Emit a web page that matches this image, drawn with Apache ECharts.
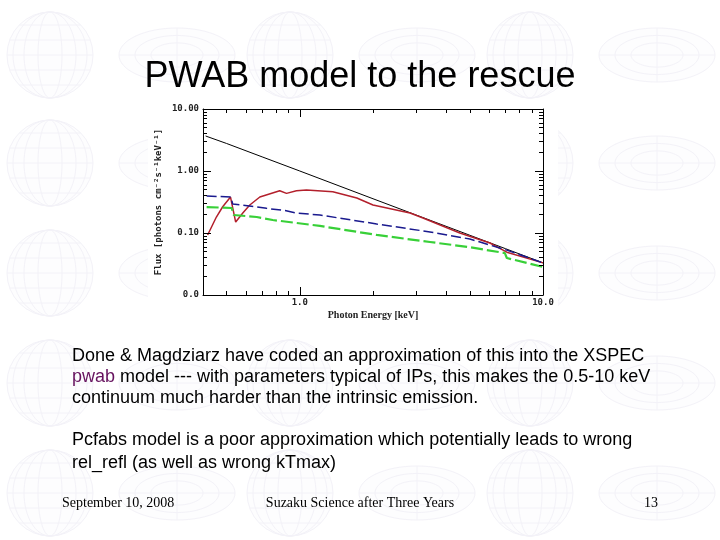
<!DOCTYPE html>
<html>
<head>
<meta charset="utf-8">
<script src="https://cdn.jsdelivr.net/npm/echarts@6/dist/echarts.min.js"></script>
<style>
  html, body { margin: 0; padding: 0; background: #fff; }
  #main { width: 720px; height: 540px; }
</style>
</head>
<body>
<div id="main"></div>
<script>
// values (keV, photons cm^-2 s^-1 keV^-1)
var energyBlack = [0.41, 0.5, 0.7, 1.0, 2.0, 3.0, 5.0, 7.0, 10.0];
var fluxBlack = [3.67, 2.78, 1.69, 1.0, 0.357, 0.196, 0.092, 0.056, 0.033];

var energyRed = [0.418, 0.454, 0.482, 0.519, 0.545, 0.583, 0.623, 0.685, 0.827, 0.882, 0.969, 1.065, 1.367, 1.716, 2.0, 2.84, 3.21, 4.55, 6.05, 7.1, 10.0];
var fluxRed = [0.093, 0.181, 0.265, 0.38, 0.150, 0.21, 0.283, 0.381, 0.481, 0.436, 0.481, 0.494, 0.464, 0.367, 0.283, 0.21, 0.175, 0.10, 0.069, 0.049, 0.033];

var energyBlue = [0.414, 0.52, 0.53, 0.62, 0.73, 0.87, 0.97, 1.21, 2.07, 3.43, 5.0, 7.1, 10.0];
var fluxBlue = [0.395, 0.38, 0.294, 0.272, 0.25, 0.23, 0.21, 0.195, 0.14, 0.104, 0.080, 0.053, 0.033];

var energyGreen = [0.414, 0.525, 0.535, 0.665, 0.774, 0.97, 1.21, 2.07, 3.43, 5.0, 6.97, 7.1, 10.0];
var fluxGreen = [0.262, 0.253, 0.195, 0.181, 0.162, 0.145, 0.130, 0.093, 0.0716, 0.059, 0.0475, 0.0395, 0.0283];

var xMajorTicks = [1, 10];
var xTickLabels = ['1.0', '10.0'];
var xMinorTicks = [0.5, 0.6, 0.7, 0.8, 0.9, 2, 3, 4, 5, 6, 7, 8, 9];
var yMajorTicks = [0.01, 0.1, 1, 10];
var yTickLabels = ['0.0', '0.10', '1.00', '10.00'];
var yMinorTicks = [0.02, 0.03, 0.04, 0.05, 0.06, 0.07, 0.08, 0.09,
  0.2, 0.3, 0.4, 0.5, 0.6, 0.7, 0.8, 0.9,
  2, 3, 4, 5, 6, 7, 8, 9];

var plotFont = 'DejaVu Sans Mono';

function pick(ticks, labels, v) {
  for (var i = 0; i < ticks.length; i++) {
    if (Math.abs(Math.log(v / ticks[i])) < 0.01) return labels[i];
  }
  return '';
}

function pairs(xs, ys) {
  var out = [];
  for (var i = 0; i < xs.length; i++) out.push([xs[i], ys[i]]);
  return out;
}

function xAxisOf(grid, pos, ticks, len, withLabels) {
  return {
    type: 'log', logBase: 10, gridIndex: grid, position: pos, min: 0.4, max: 10, z: 5,
    axisLine: { show: len > 5, lineStyle: { color: '#000', width: 1 } },
    axisTick: { show: true, inside: true, length: len, customValues: ticks, lineStyle: { color: '#000', width: 1 } },
    axisLabel: withLabels ? {
      show: true, margin: 3, customValues: xMajorTicks, color: '#222',
      fontFamily: plotFont, fontSize: 9, fontWeight: 'bold',
      formatter: function (v) { return pick(xMajorTicks, xTickLabels, v); }
    } : { show: false },
    splitLine: { show: false }, minorTick: { show: false }
  };
}

function yAxisOf(grid, pos, ticks, len, withLabels) {
  return {
    type: 'log', logBase: 10, gridIndex: grid, position: pos, min: 0.01, max: 10, z: 5,
    axisLine: { show: len > 5, lineStyle: { color: '#000', width: 1 } },
    axisTick: { show: true, inside: true, length: len, customValues: ticks, lineStyle: { color: '#000', width: 1 } },
    axisLabel: withLabels ? {
      show: true, margin: 4, customValues: yMajorTicks, color: '#222',
      fontFamily: plotFont, fontSize: 9, fontWeight: 'bold',
      formatter: function (v) { return pick(yMajorTicks, yTickLabels, v); }
    } : { show: false },
    splitLine: { show: false }, minorTick: { show: false }
  };
}

// faint globe watermark of the slide template
var globeColor = '#f3f2f8';
var decor = [];
var rowsY = [55, 163, 273, 383, 493];
var sphereX = [50, 290, 530];
rowsY.forEach(function (cy) {
  sphereX.forEach(function (cx) {
    decor.push({ type: 'circle', z: -2, shape: { cx: cx, cy: cy, r: 43 }, style: { fill: '#fdfdfe', stroke: globeColor, lineWidth: 1 } });
    [-30, -15, 0, 15, 30].forEach(function (d) {
      var h = Math.sqrt(43 * 43 - d * d);
      decor.push({ type: 'line', z: -2, shape: { x1: cx - h, y1: cy + d, x2: cx + h, y2: cy + d }, style: { stroke: globeColor, lineWidth: 1 } });
    });
    [12, 26, 37].forEach(function (rx) {
      decor.push({ type: 'ellipse', z: -2, shape: { cx: cx, cy: cy, rx: rx, ry: 43 }, style: { fill: null, stroke: globeColor, lineWidth: 1 } });
    });
    var dx = cx + 127;
    [58, 42, 26].forEach(function (rx) {
      decor.push({ type: 'ellipse', z: -2, shape: { cx: dx, cy: cy, rx: rx, ry: rx * 27 / 58 }, style: { fill: rx === 58 ? '#fdfdfe' : null, stroke: globeColor, lineWidth: 1 } });
    });
    decor.push({ type: 'line', z: -2, shape: { x1: dx - 58, y1: cy, x2: dx + 58, y2: cy }, style: { stroke: globeColor, lineWidth: 1 } });
    decor.push({ type: 'line', z: -2, shape: { x1: dx, y1: cy - 27, x2: dx, y2: cy + 27 }, style: { stroke: globeColor, lineWidth: 1 } });
  });
});

var bodyFont = 'Liberation Sans';
var bodyLines = [
  { y: 357, text: 'Done & Magdziarz have coded an approximation of this into the XSPEC' },
  { y: 378, text: '{p|pwab} model --- with parameters typical of IPs, this makes the 0.5-10 keV' },
  { y: 399, text: 'continuum much harder than the intrinsic emission.' },
  { y: 441, text: 'Pcfabs model is a poor approximation which potentially leads to wrong' },
  { y: 464, text: 'rel_refl (as well as wrong kTmax)' }
];
var texts = bodyLines.map(function (l) {
  return {
    type: 'text', left: 72, top: l.y - 10,
    style: {
      text: l.text, fill: '#000', font: '18px "' + bodyFont + '"',
      rich: { p: { fill: '#66125e', fontSize: 18, fontFamily: bodyFont } }
    }
  };
});

var footFont = '14px "Liberation Serif"';
texts.push({ type: 'text', left: 62, top: 496, style: { text: 'September 10, 2008', fill: '#000', font: footFont } });
texts.push({ type: 'text', left: 'center', top: 496, style: { text: 'Suzaku Science after Three Years', fill: '#000', font: footFont } });
texts.push({ type: 'text', left: 644, top: 496, style: { text: '13', fill: '#000', font: footFont } });

var chartBack = { type: 'rect', z: -1, shape: { x: 148, y: 100, width: 410, height: 220 }, style: { fill: '#fff' } };

var grids = [
  { left: 203, top: 109, width: 340, height: 186, containLabel: false, outerBoundsMode: 'none' },
  { left: 203, top: 109, width: 340, height: 186, containLabel: false, outerBoundsMode: 'none' }
];

var xAxes = [
  xAxisOf(0, 'bottom', xMajorTicks, 8, true),
  xAxisOf(0, 'top', xMajorTicks, 8, false),
  xAxisOf(1, 'bottom', xMinorTicks, 4, false),
  xAxisOf(1, 'top', xMinorTicks, 4, false)
];
xAxes[0].name = 'Photon Energy [keV]';
xAxes[0].nameLocation = 'middle';
xAxes[0].nameGap = 15;
xAxes[0].nameTextStyle = { fontFamily: 'Liberation Serif', fontSize: 10, fontWeight: 'bold', color: '#222' };

var yAxes = [
  yAxisOf(0, 'left', yMajorTicks, 8, true),
  yAxisOf(0, 'right', yMajorTicks, 8, false),
  yAxisOf(1, 'left', yMinorTicks, 4, false),
  yAxisOf(1, 'right', yMinorTicks, 4, false)
];
yAxes[0].name = 'Flux [photons cm\u207B\u00B2s\u207B\u00B9keV\u207B\u00B9]';
yAxes[0].nameLocation = 'middle';
yAxes[0].nameGap = 40;
yAxes[0].nameTextStyle = { fontFamily: plotFont, fontSize: 9, fontWeight: 'bold', color: '#222' };

function curve(name, xs, ys, color, width, type) {
  return {
    name: name, type: 'line', xAxisIndex: 0, yAxisIndex: 0,
    data: pairs(xs, ys), showSymbol: false, symbol: 'none', smooth: false, clip: true,
    lineStyle: { color: color, width: width, type: type }, z: 3
  };
}

var option = {
  backgroundColor: '#fff',
  animation: false,
  title: {
    text: 'PWAB model to the rescue', left: 'center', top: 54,
    textStyle: { fontFamily: bodyFont, fontSize: 36, fontWeight: 'normal', color: '#000' }
  },
  graphic: { elements: decor.concat([chartBack]).concat(texts) },
  grid: grids,
  xAxis: xAxes,
  yAxis: yAxes,
  series: [
    curve('intrinsic', energyBlack, fluxBlack, '#000000', 1, 'solid'),
    curve('pwab', energyRed, fluxRed, '#b3202c', 1.5, 'solid'),
    curve('pcfabs', energyBlue, fluxBlue, '#1a1a8e', 1.5, [10, 4]),
    curve('pcfabs2', energyGreen, fluxGreen, '#38d038', 2.2, [12, 4])
  ]
};

var myChart = echarts.init(document.getElementById('main'));
myChart.setOption(option);
</script>
</body>
</html>
